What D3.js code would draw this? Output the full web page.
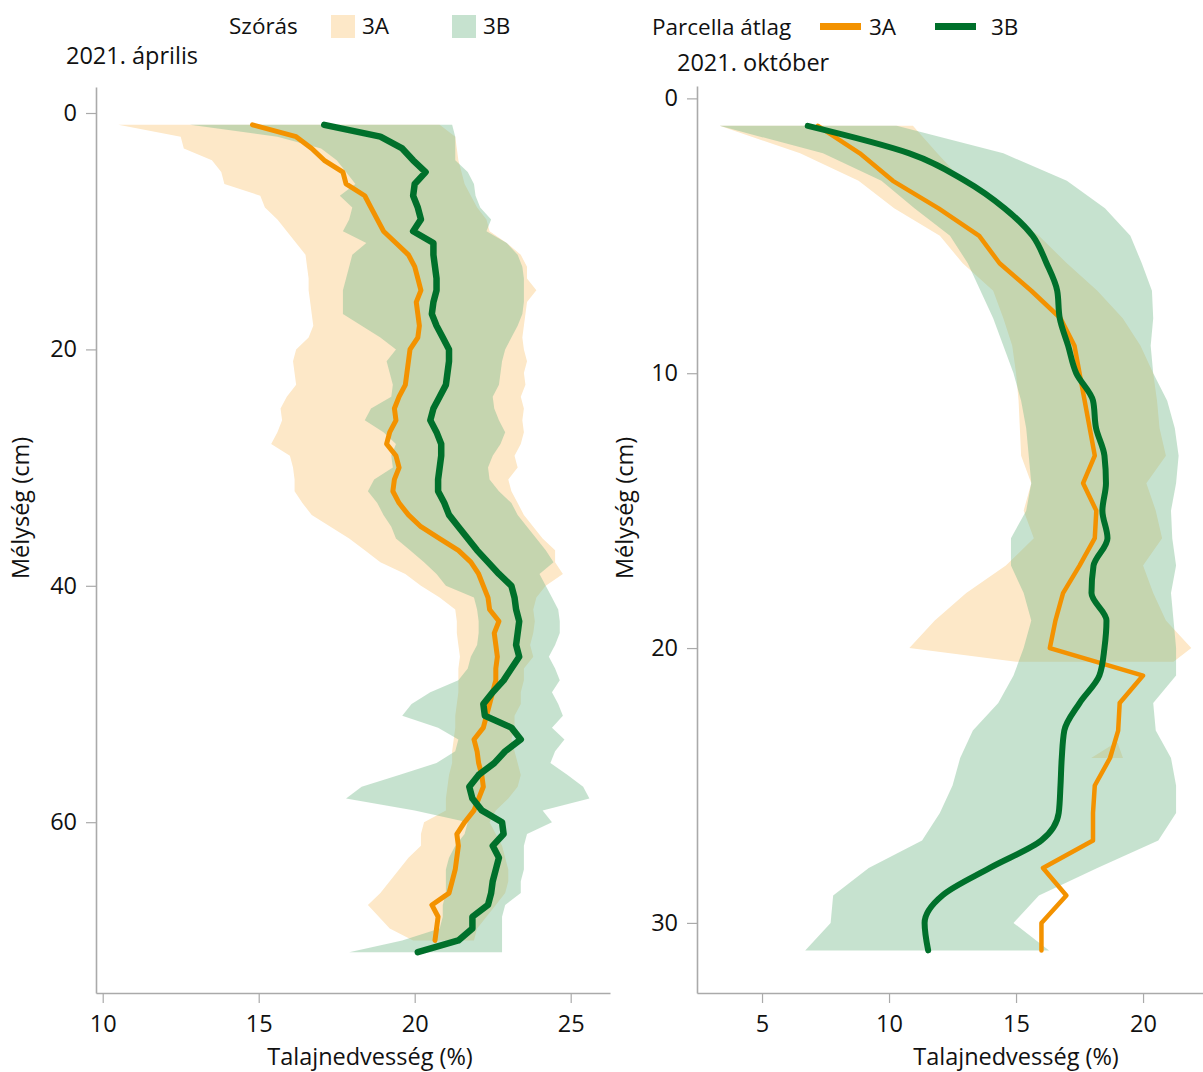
<!DOCTYPE html>
<html>
<head>
<meta charset="utf-8">
<script src="https://cdn.jsdelivr.net/npm/d3@7"></script>
<style>
  body { margin: 0; background: #fff; }
  svg { display: block; font-family: 'Open Sans', sans-serif; }
</style>
</head>
<body>
<script>
// Chart settings
const width = 1203
const height = 1072

// Colors
const bandOrange = '#fde8c8'
const bandGreen = 'rgb(120, 185, 140)'
const bandGreenOpacity = 0.42
const lineOrange = '#f39200'
const lineGreen = '#00702b'
const axisGray = '#aaaaaa'

// Tick labels
const aprXTicks = [10, 15, 20, 25]
const aprYTicks = [0, 20, 40, 60]
const octXTicks = [5, 10, 15, 20]
const octYTicks = [0, 10, 20, 30]

// 2021. április – depth (cm)
const aprDepth = [1, 2, 3, 4, 5, 6, 7, 8, 9, 10, 11, 12, 13, 14, 15, 16, 17, 18, 19, 20,
  21, 22, 23, 24, 25, 26, 27, 28, 29, 30, 31, 32, 33, 34, 35, 36, 37, 38, 39, 40,
  41, 42, 43, 44, 45, 46, 47, 48, 49, 50, 51, 52, 53, 54, 55, 56, 57, 58, 59, 60,
  61, 62, 63, 64, 65, 66, 67, 68, 69, 70, 71]

// 2021. április – plot means (%)
const aprMean3A = [14.8, 16.2, 16.7, 17.1, 17.7, 17.8, 18.4, 18.6, 18.8, 19.0,
  19.4, 19.8, 20.0, 20.1, 20.2, 20.05, 20.1, 20.15, 20.1, 19.85,
  19.8, 19.75, 19.7, 19.5, 19.35, 19.4, 19.2, 19.1, 19.4, 19.5,
  19.35, 19.3, 19.5, 19.8, 20.2, 20.8, 21.4, 21.8, 22.05, 22.2,
  22.35, 22.4, 22.7, 22.55, 22.6, 22.65, 22.6, 22.6, 22.5, 22.4,
  22.3, 22.2, 21.9, 22.0, 22.05, 22.15, 22.2, 22.05, 21.9, 21.6,
  21.35, 21.4, 21.35, 21.3, 21.2, 21.1, 20.55, 20.75, 20.7, 20.65, null]
const aprMean3B = [17.1, 18.9, 19.6, 19.95, 20.35, 20.0, 19.95, 20.1, 20.2, 19.95,
  20.6, 20.6, 20.65, 20.7, 20.7, 20.6, 20.55, 20.7, 20.9, 21.1,
  21.1, 21.05, 21.0, 20.8, 20.6, 20.5, 20.7, 20.85, 20.85, 20.8,
  20.75, 20.75, 20.95, 21.1, 21.4, 21.7, 22.0, 22.35, 22.7, 23.1,
  23.2, 23.25, 23.35, 23.3, 23.25, 23.35, 23.1, 22.85, 22.5, 22.2,
  22.25, 23.1, 23.4, 22.9, 22.55, 22.05, 21.75, 21.85, 22.15, 22.8,
  22.85, 22.5, 22.7, 22.6, 22.5, 22.45, 22.35, 21.85, 21.85, 21.4, 20.1]

// 2021. április – standard deviation band edges (%)
const aprLow3A = [10.5, 12.5, 12.6, 13.5, 13.8, 13.9, 15.05, 15.2, 15.6, 15.9,
  16.2, 16.5, 16.55, 16.6, 16.6, 16.65, 16.7, 16.75, 16.6, 16.2,
  16.1, 16.15, 16.2, 15.9, 15.7, 15.75, 15.6, 15.4, 16.0, 16.1,
  16.15, 16.15, 16.4, 16.7, 17.3, 17.9, 18.4, 18.9, 19.7, 20.2,
  20.8, 21.3, 21.35, 21.35, 21.4, 21.45, 21.4, 21.4, 21.4, 21.35,
  21.3, 21.3, 21.25, 21.2, 21.2, 21.1, 21.05, 21.0, 21.0, 20.3,
  20.2, 20.2, 19.8, 19.5, 19.2, 18.9, 18.5, 18.85, 19.2, 19.95, null]
const aprHigh3A = [20.8, 21.3, 21.35, 21.4, 21.5, 21.6, 21.8, 22.0, 22.3, 22.4,
  22.95, 23.4, 23.6, 23.6, 23.9, 23.6, 23.55, 23.5, 23.45, 23.5,
  23.6, 23.5, 23.55, 23.4, 23.5, 23.45, 23.5, 23.4, 23.2, 23.3,
  23.0, 23.1, 23.3, 23.5, 23.8, 24.1, 24.5, 24.5, 24.75, 24.2,
  23.9, 23.8, 23.85, 23.8, 23.7, 23.8, 23.5, 23.5, 23.4, 23.4,
  23.2, 23.2, 23.1, 23.2, 23.3, 23.4, 23.3, 23.0, 22.6, 22.4,
  22.6, 22.8, 22.9, 23.0, 23.0, 22.9, 22.6, 22.3, 22.0, 21.9, null]
const aprLow3B = [12.8, 15.6, 17.0, 17.5, 17.8, 18.1, 17.6, 18.0, 17.9, 17.7,
  18.45, 18.0, 17.9, 17.8, 17.7, 17.7, 17.7, 18.3, 18.9, 19.4,
  19.1, 19.2, 19.3, 19.25, 18.6, 18.4, 19.0, 19.4, 19.25, 19.3,
  18.7, 18.5, 18.8, 19.0, 19.25, 19.4, 19.85, 20.3, 20.7, 21.0,
  21.9, 22.0, 22.05, 22.05, 22.0, 21.8, 21.7, 21.4, 20.5, 19.9,
  19.6, 20.75, 21.4, 21.3, 20.7, 19.5, 18.3, 17.8, 20.0, 21.7,
  21.6, 21.3, 21.1, 21.0, 21.0, 21.0, 20.9, 20.9, 20.8, 19.6, 17.9]
const aprHigh3B = [21.2, 21.3, 21.3, 21.3, 21.7, 21.9, 21.95, 22.1, 22.45, 22.3,
  22.95, 23.3, 23.45, 23.5, 23.5, 23.5, 23.45, 23.3, 23.1, 22.9,
  22.8, 22.75, 22.7, 22.5, 22.55, 22.7, 22.9, 22.75, 22.5, 22.35,
  22.4, 22.7, 23.1, 23.3, 23.6, 23.9, 24.2, 24.45, 24.0, 24.2,
  24.4, 24.6, 24.65, 24.65, 24.5, 24.3, 24.5, 24.65, 24.4, 24.6,
  24.75, 24.4, 24.8, 24.5, 24.35, 24.9, 25.4, 25.6, 24.1, 24.4,
  23.6, 23.5, 23.5, 23.5, 23.4, 23.4, 22.9, 22.8, 22.8, 22.8, 22.8]

// 2021. október – depth (cm)
const octDepth = [1, 2, 3, 4, 5, 6, 7, 8, 9, 10, 11, 12, 13, 14, 15, 16,
  17, 18, 19, 20, 21, 22, 23, 24, 25, 26, 27, 28, 29, 30, 31]

// 2021. október – plot means (%)
const octMean3A = [7.2, 8.85, 10.15, 11.95, 13.55, 14.35, 15.6, 16.75, 17.3, 17.5,
  17.7, 17.9, 18.1, 17.64, 18.16, 18.1, 17.5, 16.85, 16.55, 16.33,
  20.0, 19.08, 19.02, 18.7, 18.1, 18.03, 18.03, 16.06, 16.98, 16.0, 16.0]
const octMean3B = [6.8, 10.8, 13.0, 14.55, 15.65, 16.2, 16.62, 16.72, 17.05, 17.37,
  18.03, 18.15, 18.48, 18.54, 18.4, 18.6, 18.05, 17.97, 18.56, 18.48,
  18.28, 17.5, 16.9, 16.8, 16.75, 16.68, 16.0, 13.97, 12.1, 11.4, 11.54]

// 2021. október – standard deviation band edges (%)
const octLow3B = [3.33, 7.4, 9.7, 11.0, 12.4, 13.1, 13.6, 14.1, 14.5, 14.9,
  15.2, 15.4, 15.5, 15.6, 15.4, 14.8, 14.8, 15.3, 15.6, 15.3,
  14.9, 14.3, 13.3, 12.8, 12.5, 12.0, 11.3, 9.2, 7.8, 7.7, 6.7]
const octHigh3B = [10.3, 14.5, 17.0, 18.5, 19.5, 19.95, 20.35, 20.4, 20.3, 20.4,
  20.95, 21.25, 21.4, 21.3, 21.1, 21.15, 21.3, 21.1, 21.2, 21.3,
  21.3, 20.4, 20.5, 21.1, 21.3, 21.3, 20.6, 18.2, 15.9, 14.9, 16.3]

// 3A band in October is only partly available
const octBandDepth3A = [1, 2, 3, 4, 5, 6, 7, 8, 9, 10, 11, 12, 13, 14, 15, 16,
  17, 18, 19, 20, 20.5, 22, 23.45, 24]
const octLow3A = [3.33, 6.5, 8.8, 10.2, 12.0, 12.9, 14.1, 14.5, 14.85, 15.0,
  15.1, 15.15, 15.2, 15.6, 15.3, 15.7, 14.6, 13.04, 11.8, 10.8,
  15.0, null, 18.9, 17.96]
const octHigh3A = [10.94, 11.9, 12.9, 14.4, 15.9, 17.0, 18.2, 19.2, 19.9, 20.4,
  20.55, 20.65, 20.9, 20.13, 20.5, 20.75, 20.0, 20.4, 20.9, 21.9,
  21.2, null, 19.0, 19.21]

// Panel layouts
const panels = [
  {
    title: '2021. április', titleX: 66, titleY: 64,
    xDomain: [9.785, 26.26], xRange: [96, 610],
    yDomain: [-2.2, 74.45], yRange: [87, 993],
    xTicks: aprXTicks, yTicks: aprYTicks,
    xTitleX: 370, yTitleX: 29,
    orangeWidth: 5, greenWidth: 6.5,
    greenCurve: d3.curveLinear,
    rows: aprDepth.map((d, i) => ({ depth: d, m3A: aprMean3A[i], m3B: aprMean3B[i] })),
    band3A: aprDepth.map((d, i) => ({ depth: d, lo: aprLow3A[i], hi: aprHigh3A[i] })),
    band3B: aprDepth.map((d, i) => ({ depth: d, lo: aprLow3B[i], hi: aprHigh3B[i] }))
  },
  {
    title: '2021. október', titleX: 677, titleY: 71,
    xDomain: [2.44, 22.36], xRange: [697, 1203],
    yDomain: [-0.45, 32.55], yRange: [86, 993],
    xTicks: octXTicks, yTicks: octYTicks,
    xTitleX: 1016, yTitleX: 633,
    orangeWidth: 4.5, greenWidth: 6,
    greenCurve: d3.curveMonotoneY,
    rows: octDepth.map((d, i) => ({ depth: d, m3A: octMean3A[i], m3B: octMean3B[i] })),
    band3A: octBandDepth3A.map((d, i) => ({ depth: d, lo: octLow3A[i], hi: octHigh3A[i] })),
    band3B: octDepth.map((d, i) => ({ depth: d, lo: octLow3B[i], hi: octHigh3B[i] }))
  }
]

// Create svg
const svg = d3.select('body')
  .append('svg')
  .attr('width', width)
  .attr('height', height)

panels.forEach(p => {
  const x = d3.scaleLinear().domain(p.xDomain).range(p.xRange)
  const y = d3.scaleLinear().domain(p.yDomain).range(p.yRange)
  const g = svg.append('g')

  const area = d3.area()
    .defined(d => d.lo != null && d.hi != null)
    .y(d => y(d.depth))
    .x0(d => x(d.lo))
    .x1(d => x(d.hi))

  // Bands
  g.append('path')
    .datum(p.band3A)
    .attr('d', area)
    .attr('fill', bandOrange)
  g.append('path')
    .datum(p.band3B)
    .attr('d', area)
    .attr('fill', bandGreen)
    .attr('fill-opacity', bandGreenOpacity)

  // Mean lines
  const line = (key, curve) => d3.line()
    .defined(d => d[key] != null)
    .curve(curve)
    .y(d => y(d.depth))
    .x(d => x(d[key]))

  g.append('path')
    .datum(p.rows)
    .attr('d', line('m3A', d3.curveLinear))
    .attr('fill', 'none')
    .attr('stroke', lineOrange)
    .attr('stroke-width', p.orangeWidth)
    .attr('stroke-linejoin', 'round')
    .attr('stroke-linecap', 'round')
  g.append('path')
    .datum(p.rows)
    .attr('d', line('m3B', p.greenCurve))
    .attr('fill', 'none')
    .attr('stroke', lineGreen)
    .attr('stroke-width', p.greenWidth)
    .attr('stroke-linejoin', 'round')
    .attr('stroke-linecap', 'round')

  // Axes
  const xAxis = g.append('g')
    .attr('transform', `translate(0, ${p.yRange[1]})`)
    .call(d3.axisBottom(x).tickValues(p.xTicks).tickSize(10).tickSizeOuter(0).tickPadding(12))
  const yAxis = g.append('g')
    .attr('transform', `translate(${p.xRange[0]}, 0)`)
    .call(d3.axisLeft(y).tickValues(p.yTicks).tickSize(10).tickSizeOuter(0).tickPadding(9))

  ;[xAxis, yAxis].forEach(a => {
    a.select('.domain').attr('stroke', axisGray).attr('stroke-width', 1.6)
    a.selectAll('.tick line').attr('stroke', axisGray).attr('stroke-width', 1.2)
    a.selectAll('.tick text')
      .attr('fill', '#111')
      .style('font-size', '23.5px')
      .style('font-family', "'Open Sans', sans-serif")
  })

  // Axis titles
  g.append('text')
    .attr('x', p.xTitleX)
    .attr('y', 1065)
    .attr('text-anchor', 'middle')
    .style('font-size', '23.5px')
    .attr('fill', '#111')
    .text('Talajnedvesség (%)')
  g.append('text')
    .attr('transform', `translate(${p.yTitleX}, 508) rotate(-90)`)
    .attr('text-anchor', 'middle')
    .style('font-size', '23.5px')
    .attr('fill', '#111')
    .text('Mélység (cm)')

  // Panel title
  g.append('text')
    .attr('x', p.titleX)
    .attr('y', p.titleY)
    .style('font-size', '23.5px')
    .attr('fill', '#111')
    .text(p.title)
})

// Legend
const legend = svg.append('g').style('font-size', '22.5px').attr('fill', '#111')
legend.append('text').attr('x', 229).attr('y', 34).text('Szórás')
legend.append('rect').attr('x', 331).attr('y', 15).attr('width', 24).attr('height', 23).attr('fill', bandOrange)
legend.append('text').attr('x', 362).attr('y', 34).text('3A')
legend.append('rect').attr('x', 452).attr('y', 15).attr('width', 24).attr('height', 23)
  .attr('fill', bandGreen).attr('fill-opacity', bandGreenOpacity)
legend.append('text').attr('x', 483).attr('y', 34).text('3B')

legend.append('text').attr('x', 652).attr('y', 35).text('Parcella átlag')
legend.append('line').attr('x1', 820).attr('x2', 861).attr('y1', 26.5).attr('y2', 26.5)
  .attr('stroke', lineOrange).attr('stroke-width', 7)
legend.append('text').attr('x', 869).attr('y', 35).text('3A')
legend.append('line').attr('x1', 935).attr('x2', 976).attr('y1', 26.5).attr('y2', 26.5)
  .attr('stroke', lineGreen).attr('stroke-width', 7)
legend.append('text').attr('x', 991).attr('y', 35).text('3B')
</script>
</body>
</html>
